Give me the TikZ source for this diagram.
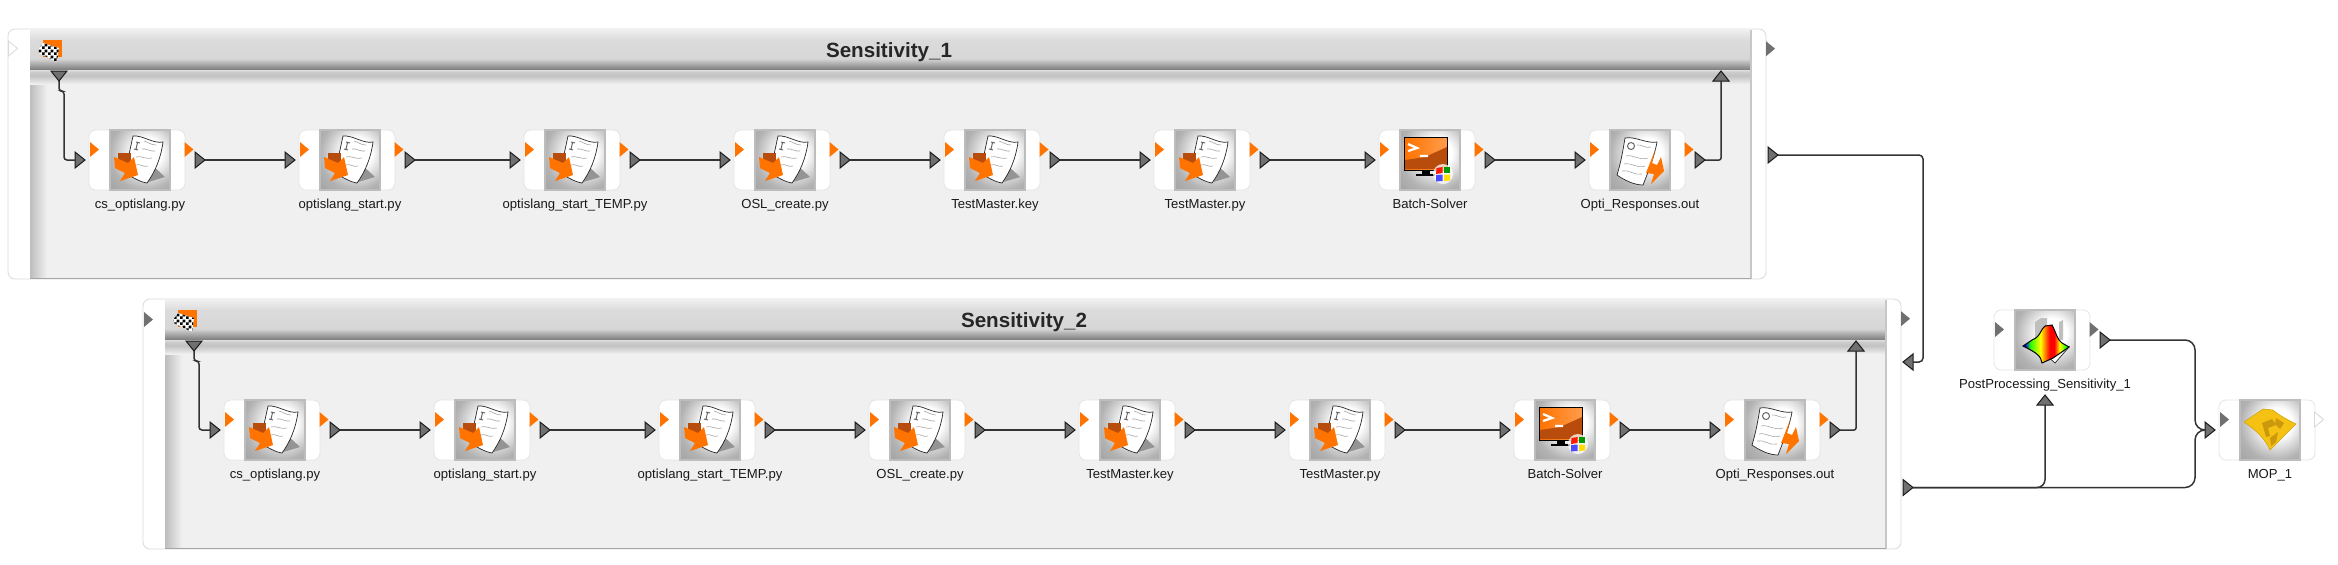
\documentclass[tikz,border=0pt]{standalone}
\usepackage{fontspec}
\setmainfont{Liberation Sans}
\usetikzlibrary{shapes.geometric}
\usetikzlibrary{patterns}
\usetikzlibrary{positioning}
\definecolor{portorange}{rgb}{1.0,0.45,0.0}
\definecolor{darkorange}{rgb}{0.72,0.30,0.05}
\definecolor{pingray}{rgb}{0.44,0.44,0.44}
\definecolor{wirecol}{rgb}{0.2,0.2,0.2}
\definecolor{bodycol}{rgb}{0.94,0.94,0.94}
\definecolor{gold}{rgb}{0.96,0.76,0.08}
\definecolor{golddark}{rgb}{0.80,0.60,0.05}
\pgfdeclareverticalshading{headshade}{100bp}{color(0bp)=(black!52); color(25bp)=(black!52);
  color(33bp)=(black!32); color(39bp)=(black!16); color(62bp)=(black!14); color(75bp)=(black!6); color(100bp)=(black!6)}
\pgfdeclareverticalshading{bandshade}{100bp}{color(0bp)=(bodycol); color(25bp)=(bodycol);
  color(55bp)=(black!24); color(68bp)=(black!20); color(75bp)=(black!13); color(100bp)=(black!13)}
\pgfdeclareradialshading{iconshade}{\pgfpoint{7bp}{7bp}}{color(0bp)=(white); color(12bp)=(white);
  color(30bp)=(black!30); color(52bp)=(black!42); color(100bp)=(black!42)}
\pgfdeclarehorizontalshading{rainbowshade}{100bp}{color(0bp)=(blue); color(27bp)=(blue);
  color(33bp)=(green!85!yellow); color(44bp)=(yellow); color(54bp)=(red); color(59bp)=(red); color(65bp)=(yellow); color(71bp)=(green!85!yellow); color(100bp)=(green!85!yellow)}
\pgfdeclarehorizontalshading{screenshade}{100bp}{color(0bp)=(portorange); color(25bp)=(portorange);
  color(75bp)=(portorange!70!white); color(100bp)=(portorange!70!white)}
\pgfdeclarepatternformonly{finecheck}{\pgfpointorigin}{\pgfqpoint{3pt}{3pt}}{\pgfqpoint{3pt}{3pt}}{%
  \pgfpathrectangle{\pgfpointorigin}{\pgfqpoint{1.5pt}{1.5pt}}%
  \pgfpathrectangle{\pgfqpoint{1.5pt}{1.5pt}}{\pgfqpoint{1.5pt}{1.5pt}}%
  \pgfusepath{fill}}
\tikzset{pin/.style={isosceles triangle, isosceles triangle stretches, minimum height=5pt, minimum width=8pt,
inner sep=0pt, outer sep=0pt, fill=pingray, draw=black!90, line width=0.5pt},
pinright/.style={pin},
pinup/.style={pin, shape border rotate=90},
pindown/.style={pin, shape border rotate=-90},
pinleft/.style={pin, shape border rotate=180},
portflat/.style={isosceles triangle, isosceles triangle stretches, minimum height=4.5pt, minimum width=7.5pt,
inner sep=0pt, outer sep=0pt},
portorg/.style={portflat, fill=portorange},
portgray/.style={portflat, fill=pingray},
portghost/.style={portflat, fill=white, draw=black!15, line width=0.4pt},
wire/.style={draw=wirecol, line width=0.75pt},
plate/.style={rectangle, rounded corners=3.5pt, fill=white, draw=black!10, line width=0.4pt,
minimum width=48pt, minimum height=30pt, inner sep=0pt, outer sep=0pt},
iconbox/.style={rectangle, shading=iconshade, draw=black!26, line width=0.6pt,
minimum width=30pt, minimum height=30pt, inner sep=0pt, outer sep=0pt},
caption/.style={font=\fontsize{6.55}{8}\selectfont, text=black!90, inner sep=0pt, text height=5pt, text depth=1.5pt},
rim/.style={rectangle, rounded corners=3.5pt, fill=white, draw=black!15, line width=0.4pt,
minimum width=879pt, minimum height=125pt, inner sep=0pt, outer sep=0pt},
headtext/.style={font=\bfseries\fontsize{10.3}{12}\selectfont, text=black!85, inner sep=0pt},
page/.style={fill=white, draw=black!85, line width=0.35pt},
scrib/.style={draw=black!35, line width=0.3pt},
solidorg/.style={fill=portorange}}

% icons, drawn in pixels from the top left corner of the box
\newcommand{\iconin}{%
\fill[black!42] (35,53) -- (55,47) -- (40,33) -- cycle;
\filldraw[page] (23,6) .. controls (33,5) and (43,14) .. (53,12) .. controls (51,28) and (45,42) .. (37,53)
  .. controls (30,52) and (22,47) .. (15,43) -- cycle;
\draw[black!60,line width=0.5pt] (26,12) -- (30,13) (24,19) -- (28,20) (27.5,12.5) -- (26,19.5);
\draw[scrib] (34,11) .. controls (38,12) and (41,15) .. (46,15);
\draw[scrib] (32,19) .. controls (36,18) and (41,22) .. (45,21);
\draw[scrib] (26,27) .. controls (30,25) and (37,30) .. (42,28);
\draw[scrib] (26,35) .. controls (30,33) and (34,38) .. (38,36);
\fill[darkorange] (8,23) rectangle (21,36);
\fill[solidorg] (4,27) -- (18,33) -- (24,27) -- (28,45) -- (10,51) -- (15,43) -- (5,38) -- cycle;}
\newcommand{\iconout}{%
\filldraw[page] (15,8) .. controls (25,6) and (37,14) .. (47,12) .. controls (44,28) and (38,42) .. (33,55)
  .. controls (24,55) and (14,50) .. (7,45) .. controls (11,32) and (13,20) .. (15,8) -- cycle;
\draw[black!60,line width=0.5pt] (21,16) circle (3.5);
\draw[scrib] (27,15) .. controls (31,14) and (36,19) .. (41,17);
\draw[scrib] (16,26) .. controls (22,24) and (30,31) .. (38,28);
\draw[scrib] (14,34) .. controls (20,32) and (28,39) .. (35,36);
\draw[scrib] (12,41) .. controls (18,39) and (25,46) .. (32,44);
\fill[solidorg] (45,20) -- (42,33) -- (47,35) -- (51,27) -- (54,41) -- (41,54) -- (44,44) -- (36,43) -- cycle;}
\newcommand{\iconbatch}{%
\draw[black,line width=0.8pt,shading=screenshade] (4.5,7.5) rectangle (47.5,40.5);
\fill[darkorange] (5,39) -- (5,30) -- (25,27) -- (47,17) -- (47,39) -- cycle;
\draw[white,line width=1.1pt] (8,14) -- (17,18) -- (8,21) (20,26) -- (28,26);
\fill[black] (22,40) rectangle (30,44);
\fill[black] (16,44) rectangle (35,45.5);
\fill[white,opacity=0.75] (43,44) circle (10);
\fill[red!80!orange] (36.5,38) -- (42.5,37) -- (42.5,43) -- (36,44) -- cycle;
\fill[green!60!black] (44,37) -- (50,37) -- (50,43) -- (44,43) -- cycle;
\fill[blue!70!white] (36,45) -- (42.5,44.5) -- (42.5,51) -- (36,51.5) -- cycle;
\fill[yellow!80!orange] (44,44.5) -- (50,44.5) -- (50,50.5) -- (44,51) -- cycle;}
\newcommand{\iconpost}{%
\fill[black!25] (20,12) -- (26,8) -- (32,8) -- (32,30) -- (20,30) -- cycle;
\fill[black!25] (44,12) -- (48,10) -- (48,30) -- (44,30) -- cycle;
\filldraw[page] (30,44) -- (54,37) -- (40,53) -- cycle;
\shadedraw[shading=rainbowshade,draw=black,line width=0.5pt] (8,36) -- (17,30) .. controls (22,28) and (24,25) .. (25,23)
  .. controls (27,20) and (28,17) .. (30,16) -- (37,15) .. controls (41,22) and (42,30) .. (47,33) -- (54,37)
  -- (38,48) -- (27,53) .. controls (26,46) and (22,43) .. (8,36) -- cycle;}
\newcommand{\iconmop}{%
\filldraw[fill=gold,draw=gold!85!black,line width=0.3pt] (4,22) -- (23,9) -- (33,10) .. controls (40,16) and (48,20) .. (56,24)
  -- (30,50) .. controls (26,40) and (16,30) .. (4,22) -- cycle;
\fill[golddark] (22,23) -- (32,19) -- (36,25) -- (28,28) -- (30,36) -- (26,37) -- cycle;
\fill[golddark] (36,18) -- (44,23) -- (40,29) -- (35,24) -- cycle;
\fill[golddark] (30,38) -- (38,32) -- (36,42) -- (31,46) -- cycle;}

% one module with its picture and text
\newcommand{\modulebox}[6]{%
\node(#1p) [plate] at (#2-3,#3) {};
\node(#1) [iconbox] at (#2,#3) {};
\node(#1t) [caption, below=3.8pt of #1] {#4};
\node(#1a) [#6, anchor=lower side] at (#2-50,#3-10.5) {};
\node(#1b) [#6, anchor=lower side] at (#2+44.5,#3-10.5) {};
\begin{scope}[shift={(#1.north west)}]#5\end{scope}}
\newcommand{\flowbox}[5]{%
\modulebox{#1}{#2}{#3}{#4}{#5}{portorg}
\node(#1I) [pinright, anchor=apex] at (#2-55,#3) {};
\node(#1O) [pinright, anchor=lower side] at (#2+55,#3) {};}

% one frame with the eight modules
\newcommand{\sensitivity}[4]{%
\begin{scope}[shift={(#2,#3)}]
\node(#1) [rim] at (887,154) {};
\fill[bodycol] (30,70) rectangle (1751,278.5);
\shade[left color=black!26,right color=bodycol] (30,82) rectangle (47,278.5);
\shade[shading=headshade] (30,29.5) rectangle (1750,70);
\shade[shading=bandshade] (30,70) rectangle (1750,84);
\draw[black!22,line width=0.6pt] (1751,29.5) -- (1751,278.5);
\draw[black!35,line width=0.6pt] (30,278.8) -- (1751,278.8);
\fill[portorange] (43,40) rectangle (62,57);
\fill[white] (38,50) -- (43,43) -- (59,48) -- (57,62) -- (39,53) -- cycle;
\fill[pattern=finecheck,pattern color=black] (38,50) -- (43,43) -- (59,48) -- (57,62) -- (39,53) -- cycle;
\node(#1h) [headtext] at (889,52) {#4};
\node(#1D) [pindown, anchor=lower side] at (59,71) {};
\node(#1U) [pinup, anchor=apex] at (1721,71) {};
\flowbox{#1cs}{140}{160}{cs\_optislang.py}{\iconin}
\flowbox{#1start}{350}{160}{optislang\_start.py}{\iconin}
\flowbox{#1temp}{575}{160}{optislang\_start\_TEMP.py}{\iconin}
\flowbox{#1create}{785}{160}{OSL\_create.py}{\iconin}
\flowbox{#1key}{995}{160}{TestMaster.key}{\iconin}
\flowbox{#1master}{1205}{160}{TestMaster.py}{\iconin}
\flowbox{#1batch}{1430}{160}{Batch-Solver}{\iconbatch}
\flowbox{#1resp}{1640}{160}{Opti\_Responses.out}{\iconout}
\draw[wire]
(#1csO.apex)
   edge
(#1startI.lower side);
\draw[wire]
(#1startO.apex)
   edge
(#1tempI.lower side);
\draw[wire]
(#1tempO.apex)
   edge
(#1createI.lower side);
\draw[wire]
(#1createO.apex)
   edge
(#1keyI.lower side);
\draw[wire]
(#1keyO.apex)
   edge
(#1masterI.lower side);
\draw[wire]
(#1masterO.apex)
   edge
(#1batchI.lower side);
\draw[wire]
(#1batchO.apex)
   edge
(#1respI.lower side);
\draw[wire,rounded corners=1.5pt] (#1D.apex) -- ++(0,10) -- ++(5,0) |- (#1csI.lower side);
\draw[wire,rounded corners=1pt] (#1respO.apex) -| (#1U.lower side);
\end{scope}}

\begin{document}
\begin{tikzpicture}[x=0.5pt,y=-0.5pt]
\useasboundingbox (0,0) rectangle (2338,564);
\sensitivity{A}{0}{0}{Sensitivity\_1}
\sensitivity{B}{135}{270}{Sensitivity\_2}
\node(Aghost) [portghost, anchor=lower side] at (8.5,48.5) {};
\node(Aright) [portgray, anchor=lower side] at (1766,48.7) {};
\node(Bleft) [portgray, anchor=lower side] at (144,319.5) {};
\node(Bright) [portgray, anchor=lower side] at (1901,318.7) {};
\modulebox{post}{2045}{340}{PostProcessing\_Sensitivity\_1}{\iconpost}{portgray}
\modulebox{mop}{2270}{430}{MOP\_1}{\iconmop}{portgray}
\node(mopg) [portghost, anchor=lower side] at (2314.5,419.5) {};
\node(Aout) [pinright, anchor=lower side] at (1768,155) {};
\node(Bin) [pinleft, anchor=apex] at (1903,362) {};
\node(Bout) [pinright, anchor=lower side] at (1903,487.5) {};
\node(postI) [pinup, anchor=apex] at (2045,395) {};
\node(postO) [pinright, anchor=lower side] at (2100,340) {};
\node(mopI) [pinright, anchor=lower side] at (2205,430) {};
\coordinate(K) at (1923,155);
\coordinate(J) at (2195,430);
\draw[wire,rounded corners=2pt] (Aout.apex) -- (K) |- (Bin.lower side);
\draw[wire,rounded corners=4pt] (Bout.apex) -| (postI.lower side);
\draw[wire] (Bout.apex) [rounded corners=5pt] -| (J) [rounded corners=1pt] -- (mopI.lower side);
\draw[wire] (postO.apex) [rounded corners=5pt] -| (J) [rounded corners=1pt] -- (mopI.lower side);
\end{tikzpicture}
\end{document}
